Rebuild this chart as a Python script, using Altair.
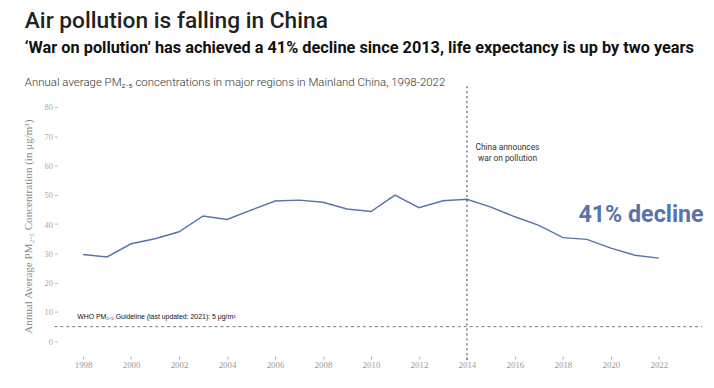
import altair as alt
import pandas as pd

years = list(range(1998, 2023))
pm25 = [29.6, 28.8, 33.3, 35.0, 37.4, 42.8, 41.6, 44.8, 47.9, 48.2, 47.5, 45.2, 44.3,
        49.9, 45.6, 48.0, 48.5, 45.8, 42.5, 39.6, 35.4, 34.8, 31.8, 29.4, 28.4]
x_ticks = list(range(1998, 2023, 2))
y_ticks = [0, 10, 20, 30, 40, 50, 60, 70, 80]
who_value = 5
announce_year = 2014

df = pd.DataFrame({"year": years, "pm": pm25})

W, H = 652, 263
xs = alt.Scale(domain=[1996.93, 2023.8], nice=False, zero=False)
ys = alt.Scale(domain=[-5.06, 83.7], nice=False, zero=False)

serif = "Liberation Serif"
sans = "Roboto"

x_axis = alt.Axis(values=x_ticks, format="d", title=None, domain=False, grid=False,
                  tickSize=3, tickColor="#aaa", labelFont=serif, labelFontSize=9,
                  labelColor="#999", labelPadding=1, labelOverlap=False)
y_title = "Annual Average   PM₂.₅  Concentration (in μg/m³)"
y_axis = alt.Axis(values=y_ticks, title=y_title,
                  domain=False, grid=False, tickSize=3, tickColor="#bbb",
                  labelFont=serif, labelFontSize=8.5, labelColor="#aaa",
                  labelOverlap=False,
                  titleFont=serif, titleFontSize=11.2, titleFontWeight="normal",
                  titleColor="#888", titlePadding=11, labelPadding=2)

line = alt.Chart(df).mark_line(color="#5874a8", strokeWidth=1.5).encode(
    x=alt.X("year:Q", scale=xs, axis=x_axis),
    y=alt.Y("pm:Q", scale=ys, axis=y_axis),
)

who_rule = alt.Chart(pd.DataFrame({"v": [who_value]})).mark_rule(
    color="#777", strokeDash=[3, 3], strokeWidth=1).encode(
    y=alt.Y("v:Q", scale=ys, axis=y_axis), x=alt.value(-3), x2=alt.value(W))

vrule = alt.Chart(pd.DataFrame({"yr": [announce_year]})).mark_rule(
    color="#333", strokeDash=[2, 3], strokeWidth=1).encode(
    x=alt.X("yr:Q", scale=xs, axis=x_axis), y=alt.value(-10), y2=alt.value(H + 4))

who_text = alt.Chart(pd.DataFrame({"t": ["WHO PM₂.₅ Guideline (last updated: 2021): 5 μg/m³"]})).mark_text(
    align="left", baseline="middle", font="Liberation Sans", fontSize=7, color="#111").encode(
    text="t:N", x=alt.value(20), y=alt.value(223))

announce = alt.Chart(pd.DataFrame({"t": [["China announces", "war on pollution"]]})).mark_text(
    align="center", baseline="top", font=sans, fontSize=8.4, color="#333", lineHeight=12, dx=41).encode(
    text="t", x=alt.datum(announce_year, scale=xs, axis=x_axis), y=alt.value(47))

decline = alt.Chart(pd.DataFrame({"t": ["41% decline"]})).mark_text(
    align="left", baseline="middle", font=sans, fontSize=23.5, fontWeight="bold", color="#5874a8").encode(
    text="t:N", x=alt.value(527), y=alt.value(120))

title = alt.Chart(pd.DataFrame({"t": ["Air pollution is falling in China"]})).mark_text(
    align="left", baseline="middle", font=sans, fontSize=23, fontWeight=500, color="#222").encode(
    text="t:N", x=alt.value(-33), y=alt.value(-76))

subtitle = alt.Chart(pd.DataFrame({"t": ["‘War on pollution’ has achieved a 41% decline since 2013, life expectancy is up by two years"]})).mark_text(
    align="left", baseline="middle", font=sans, fontSize=16.5, fontWeight="bold", color="#111").encode(
    text="t:N", x=alt.value(-33), y=alt.value(-49))

caption = alt.Chart(pd.DataFrame({"t": ["Annual average PM₂.₅ concentrations in major regions  in Mainland China, 1998-2022"]})).mark_text(
    align="left", baseline="middle", font=sans, fontSize=11.6, fontWeight=300, color="#333").encode(
    text="t:N", x=alt.value(-33), y=alt.value(-13))

chart = alt.layer(line, who_rule, vrule, who_text, announce, decline, title, subtitle, caption).properties(
    width=W, height=H,
    autosize=alt.AutoSizeParams(type="none"),
    padding={"left": 50, "top": 87, "right": 4, "bottom": 22},
    background="white",
).configure_view(strokeWidth=0, stroke="transparent")

chart.save("out.html", embed_options={"renderer": "svg", "actions": False})
